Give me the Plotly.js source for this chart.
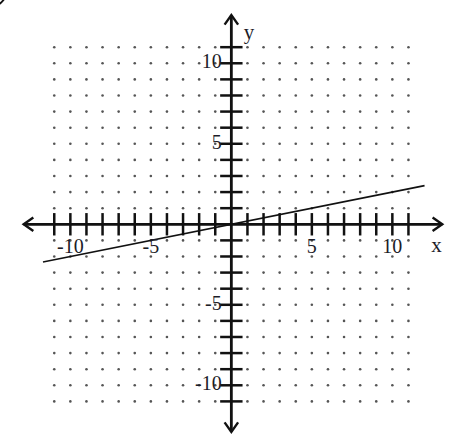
<!DOCTYPE html>
<html>
<head>
<meta charset="utf-8">
<script src="https://cdn.plot.ly/plotly-3.0.1.min.js"></script>
<style>
  html, body { margin: 0; padding: 0; background: #fff; }
  #chart { width: 459px; height: 441px; }
</style>
</head>
<body>
<div id="chart"></div>
<script>
// -----------------------------
// Data
// -----------------------------
const gridValues = [-11, -10, -9, -8, -7, -6, -5, -4, -3, -2, -1, 1, 2, 3, 4, 5, 6, 7, 8, 9, 10, 11];
const labelValues = [-10, -5, 5, 10];
const labelText = ["-10", "-5", "5", "10"];
const lineX = [-11.7, 12.0];
const lineY = [-2.34, 2.4];
const xAxisEnds = [-12.9, 13.1];
const yAxisEnds = [-12.9, 13.0];

// -----------------------------
// Helpers
// -----------------------------
const ink = "#111";
const serif = "Liberation Serif, Times New Roman, serif";
const arrowLen = 0.6;
const arrowHalf = 0.42;

function dotGrid() {
  const xs = [];
  const ys = [];
  gridValues.forEach((gx) => {
    gridValues.forEach((gy) => {
      xs.push(gx);
      ys.push(gy);
    });
  });
  return { type: "scatter", mode: "markers", x: xs, y: ys,
    marker: { size: 2.6, color: "#555" }, hoverinfo: "skip" };
}

function chevron(tx, ty, dx, dy) {
  // dx, dy: unit direction the arrow points to
  const bx = tx - dx * arrowLen;
  const by = ty - dy * arrowLen;
  const px = -dy * arrowHalf;
  const py = dx * arrowHalf;
  return { type: "scatter", mode: "lines",
    x: [bx + px, tx, bx - px], y: [by + py, ty, by - py],
    line: { color: ink, width: 2.4 }, hoverinfo: "skip" };
}

const zeros = gridValues.map(() => 0);

const traces = [
  dotGrid(),
  // axes
  { type: "scatter", mode: "lines", x: xAxisEnds, y: [0, 0],
    line: { color: ink, width: 2.8 }, hoverinfo: "skip" },
  { type: "scatter", mode: "lines", x: [0, 0], y: yAxisEnds,
    line: { color: ink, width: 2.8 }, hoverinfo: "skip" },
  chevron(xAxisEnds[0], 0, -1, 0),
  chevron(xAxisEnds[1], 0, 1, 0),
  chevron(0, yAxisEnds[0], 0, -1),
  chevron(0, yAxisEnds[1], 0, 1),
  // ticks
  { type: "scatter", mode: "markers", x: gridValues, y: zeros,
    marker: { symbol: "line-ns", size: 16, line: { color: ink, width: 2.5 } }, hoverinfo: "skip" },
  { type: "scatter", mode: "markers", x: zeros, y: gridValues,
    marker: { symbol: "line-ew", size: 16, line: { color: ink, width: 2.5 } }, hoverinfo: "skip" },
  // the line
  { type: "scatter", mode: "lines", x: lineX, y: lineY,
    line: { color: ink, width: 1.6 }, hoverinfo: "skip" },
  // tick labels
  { type: "scatter", mode: "text", x: labelValues, y: labelValues.map(() => -1.45),
    text: labelText, textposition: "middle center",
    textfont: { family: serif, size: 20, color: "#1c1c28" }, hoverinfo: "skip" },
  { type: "scatter", mode: "text", x: labelValues.map(() => -0.6), y: labelValues,
    text: labelText, textposition: "middle left",
    textfont: { family: serif, size: 20, color: "#1c1c28" }, hoverinfo: "skip" },
  // axis names
  { type: "scatter", mode: "text", x: [12.75, 1.1], y: [-1.4, 11.85], text: ["x", "y"],
    textposition: "middle center",
    textfont: { family: serif, size: 21, color: "#1c1c28" }, hoverinfo: "skip" }
];

const layout = {
  width: 459,
  height: 441,
  margin: { l: 0, r: 0, t: 0, b: 0 },
  paper_bgcolor: "#fff",
  plot_bgcolor: "#fff",
  showlegend: false,
  xaxis: { range: [-14.37, 14.14], visible: false, fixedrange: true },
  yaxis: { range: [-13.46, 13.93], visible: false, fixedrange: true },
  shapes: [
    // bit of a circle peeking in at the top-left corner
    { type: "circle", xref: "paper", yref: "paper",
      x0: -34 / 459, x1: 8 / 459, y0: 1 - 8 / 441, y1: 1 + 34 / 441,
      line: { color: ink, width: 1.8 } }
  ]
};

Plotly.newPlot("chart", traces, layout, { displayModeBar: false, staticPlot: true });
</script>
</body>
</html>
